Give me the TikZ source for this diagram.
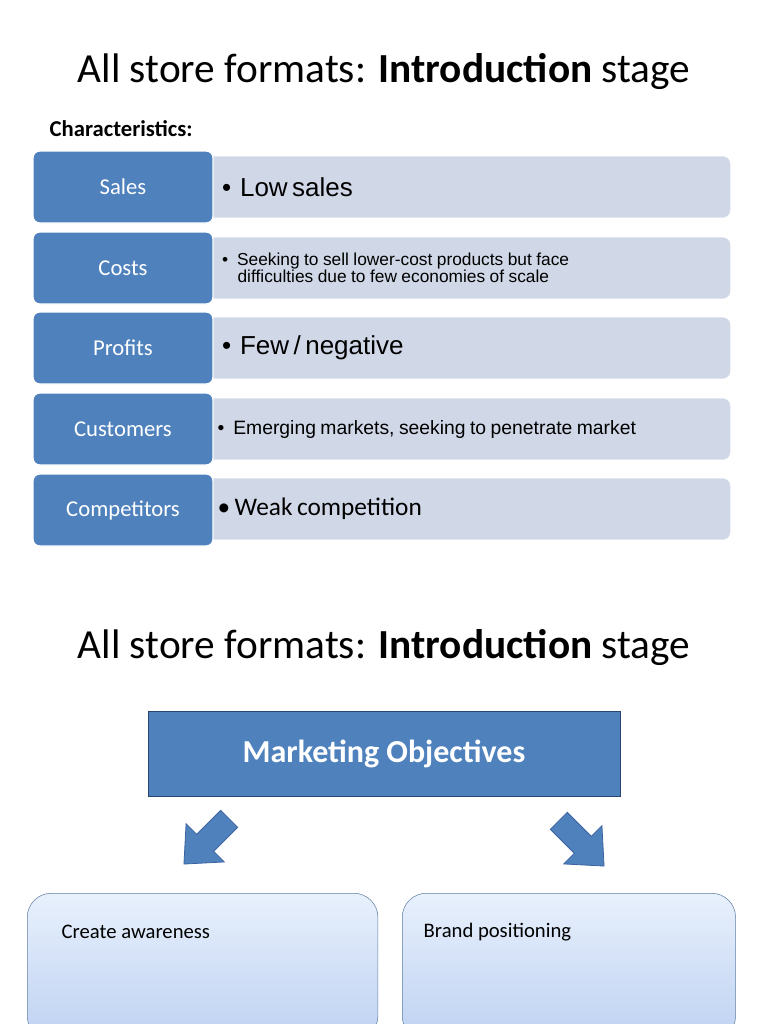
\documentclass[tikz,border=0pt]{standalone}
\usepackage{fontspec}
\setmainfont{Carlito}
\newfontfamily\arialf{Liberation Sans}
\usetikzlibrary{positioning}
\definecolor{hdblue}{RGB}{79,129,189}
\definecolor{hdedge}{RGB}{60,100,160}
\definecolor{rowfill}{RGB}{208,216,232}
\definecolor{boxtop}{RGB}{232,240,252}
\definecolor{boxbot}{RGB}{190,210,242}
\tikzset{
  head/.style={draw=white,line width=1pt,fill=hdblue,rounded corners=5pt,minimum width=135pt,minimum height=54pt,text=white,font=\fontsize{17}{19}\selectfont,inner sep=0pt},
  row/.style={fill=rowfill,draw=white,line width=1pt,rounded corners=6pt,minimum width=394pt,minimum height=47pt,anchor=west,text width=376pt,align=left,inner sep=6pt},
  goal/.style={draw=hdblue!60!gray,top color=boxtop,bottom color=boxbot,rounded corners=18pt,minimum height=110pt,anchor=north west},
  bigarrow/.style={fill=hdblue,draw=hdedge,line width=0.6pt},
  title/.style={font=\fontsize{31}{34}\selectfont}
}
\begin{document}
\begin{tikzpicture}[x=0.75pt,y=0.75pt,yscale=-1,xscale=1]
\useasboundingbox (0,0) rectangle (768,1024);
% titles
\node[title] (t1) at (384,72) {All store formats: \textbf{Introduction} stage};
\node[title] (t2) at (384,648) {All store formats: \textbf{Introduction} stage};
\node[anchor=west,font=\bfseries\fontsize{17}{19}\selectfont] (chr) at (45,129) {Characteristics:};
% rows
\node[row] (r1) at (205,187) {\arialf\fontsize{19.5}{22}\selectfont\ \textbullet\ \ Low sales};
\node[row] (r2) at (205,268) {\arialf\fontsize{13}{14.5}\selectfont\ \textbullet\ \ Seeking to sell lower-cost products but face\\\hspace*{1.15em}difficulties due to few economies of scale};
\node[row] (r3) at (205,348) {\arialf\fontsize{19.5}{22}\selectfont\ \textbullet\ \ Few / negative};
\node[row] (r4) at (205,429) {\arialf\fontsize{14.5}{16}\selectfont\textbullet\ \ Emerging markets, seeking to penetrate market};
\node[row] (r5) at (205,509) {\fontsize{19}{21}\selectfont\textbullet\ Weak competition};
\node[head] (h1) at (123,187) {Sales};
\node[head] (h2) at (123,268) {Costs};
\node[head] (h3) at (123,348) {Profits};
\node[head] (h4) at (123,429) {Customers};
\node[head] (h5) at (123,510) {Competitors};
% objectives
\node[draw=hdedge!70!black,fill=hdblue,minimum width=354pt,minimum height=64pt,text=white,font=\bfseries\fontsize{24}{27}\selectfont] (mo) at (384,754) {Marketing Objectives};
% block arrows
\draw[bigarrow,shift={(208,840)},rotate=135] (-30,-12) -- (4,-12) -- (4,-27) -- (34,0) -- (4,27) -- (4,12) -- (-30,12) -- cycle;
\draw[bigarrow,shift={(580,842)},rotate=45] (-30,-12) -- (4,-12) -- (4,-27) -- (34,0) -- (4,27) -- (4,12) -- (-30,12) -- cycle;
% goal boxes
\node[goal,minimum width=263pt] (g1) at (27,893) {};
\node[goal,minimum width=250pt] (g2) at (402,893) {};
\node[anchor=west,font=\fontsize{15.5}{17}\selectfont] (g1t) at (57,932) {Create awareness};
\node[anchor=west,font=\fontsize{15.5}{17}\selectfont] (g2t) at (419,932) {Brand positioning};
\end{tikzpicture}
\end{document}
